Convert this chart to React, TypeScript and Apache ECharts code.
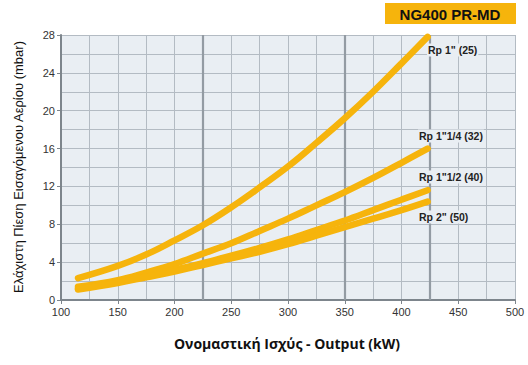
import React, { useEffect, useRef } from "react";
import * as echarts from "echarts";

const outputKW = [115, 150, 175, 200, 225, 250, 275, 300, 325, 350, 375, 400, 423];
const rp1_25 = [2.3, 3.6, 4.8, 6.3, 7.9, 9.8, 11.9, 14.1, 16.6, 19.2, 22.0, 25.0, 27.8];
const rp114_32 = [1.4, 2.1, 2.9, 3.8, 4.9, 6.0, 7.3, 8.6, 10.0, 11.4, 12.9, 14.5, 16.0];
const rp112_40 = [1.2, 1.9, 2.5, 3.2, 3.9, 4.7, 5.5, 6.4, 7.4, 8.4, 9.5, 10.6, 11.6];
const rp2_50 = [1.1, 1.8, 2.4, 3.0, 3.7, 4.4, 5.1, 5.9, 6.8, 7.7, 8.6, 9.5, 10.4];
const seriesNames = ['Rp 1" (25)', 'Rp 1"1/4 (32)', 'Rp 1"1/2 (40)', 'Rp 2" (50)'];
const boldGridX = [225, 350, 425];
const title = "NG400 PR-MD";
const xName = "Ονομαστική Ισχύς - Output (kW)";
const yName = "Ελάχιστη Πίεση Εισαγόμενου Αερίου (mbar)";

const YELLOW = "#f6b40c";
const PLOT_BG = "#e9eef3";

export default function App() {
  const ref = useRef<HTMLDivElement>(null);
  useEffect(() => {
    document.body.style.margin = "0";
    const chart = echarts.init(ref.current!, undefined, { renderer: "svg" });
    const all = [rp1_25, rp114_32, rp112_40, rp2_50];
    const series: any[] = all.map((vals, i) => ({
      name: seriesNames[i],
      type: "line",
      smooth: 0.4,
      symbol: "none",
      data: outputKW.map((x, j) => [x, vals[j]]),
      lineStyle: { color: YELLOW, width: 6.5, cap: "round" },
      z: 5,
    }));
    series[0].markLine = {
      silent: true,
      symbol: "none",
      label: { show: false },
      lineStyle: { color: "#939ba3", width: 2.2, type: "solid" },
      data: boldGridX.map((x) => ({ xAxis: x })),
      z: 1,
    };
    const labelStyle = (text: string) => ({
      text,
      fill: "#222",
      font: "bold 10.5px 'Liberation Sans'",
      verticalAlign: "middle",
      backgroundColor: PLOT_BG,
      padding: [1, 1, 1, 1],
    });
    chart.setOption({
      animation: false,
      grid: {
        left: 61,
        top: 35,
        width: 454,
        height: 265,
        show: true,
        backgroundColor: PLOT_BG,
        borderWidth: 0,
      },
      xAxis: {
        type: "value",
        min: 100,
        max: 500,
        interval: 50,
        axisLine: { lineStyle: { color: "#7d858c", width: 2 } },
        axisTick: { show: true, length: 4, lineStyle: { color: "#7d858c" } },
        axisLabel: { color: "#333", fontSize: 11, fontFamily: "Liberation Sans", margin: 6 },
        splitLine: { show: true, lineStyle: { color: "#b3bbc3", width: 1 } },
        minorTick: { show: false, splitNumber: 2 },
        minorSplitLine: { show: true, lineStyle: { color: "#b3bbc3", width: 1 } },
      },
      yAxis: {
        type: "value",
        min: 0,
        max: 28,
        interval: 4,
        axisLine: { show: true, lineStyle: { color: "#7d858c", width: 2 } },
        axisTick: { show: true, length: 4, lineStyle: { color: "#7d858c" } },
        axisLabel: { color: "#333", fontSize: 11, fontFamily: "Liberation Sans", margin: 6 },
        splitLine: { show: true, lineStyle: { color: "#b3bbc3", width: 1 } },
        minorTick: { show: false, splitNumber: 2 },
        minorSplitLine: { show: true, lineStyle: { color: "#b3bbc3", width: 1 } },
      },
      series,
      graphic: [
        { type: "rect", shape: { x: 385, y: 3, width: 131, height: 21 }, style: { fill: YELLOW } },
        {
          type: "text",
          x: 450,
          y: 14,
          style: {
            text: title,
            fill: "#111",
            font: "bold 15px 'Liberation Sans'",
            align: "center",
            verticalAlign: "middle",
          },
        },
        { type: "text", x: 427, y: 50, z: 10, style: labelStyle(seriesNames[0]) },
        { type: "text", x: 418, y: 136, z: 10, style: labelStyle(seriesNames[1]) },
        { type: "text", x: 418, y: 177, z: 10, style: labelStyle(seriesNames[2]) },
        { type: "text", x: 418, y: 217, z: 10, style: labelStyle(seriesNames[3]) },
        {
          type: "text",
          x: 287,
          y: 343,
          style: {
            text: xName,
            fill: "#111",
            font: "bold 14px 'Open Sans'",
            align: "center",
            verticalAlign: "middle",
          },
        },
        {
          type: "text",
          x: 18,
          y: 167,
          rotation: Math.PI / 2,
          style: {
            text: yName,
            fill: "#111",
            font: "13px 'Liberation Sans'",
            align: "center",
            verticalAlign: "middle",
          },
        },
      ],
    });
    return () => chart.dispose();
  }, []);
  return <div ref={ref} style={{ width: 528, height: 365, position: "fixed", left: 0, top: 0, background: "#fff" }} />;
}
